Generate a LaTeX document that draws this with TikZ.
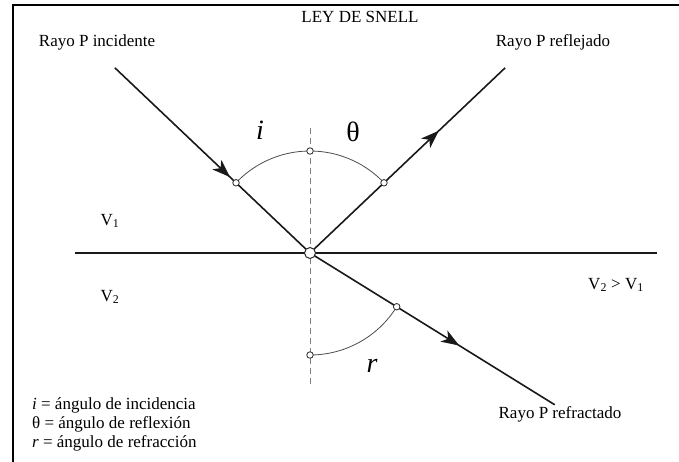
\documentclass[tikz,border=0pt]{standalone}
\usepackage{fontspec}
\setmainfont{Liberation Serif}
\usetikzlibrary{arrows.meta, calc, decorations.markings}

\begin{document}
\begin{tikzpicture}[x=1pt, y=1pt,
  ray/.style={line width=1.6pt, black!90},
  midarrow/.style={postaction={decorate}, decoration={markings,
    mark=at position #1 with {\arrow{Stealth[length=18pt, width=13pt, inset=5pt]}}}},
  arcline/.style={line width=0.8pt, black!70},
  hole/.style={circle, draw=black!85, fill=white, line width=0.8pt,
    inner sep=0pt, minimum size=6.5pt},
  lbl/.style={font=\fontsize{17}{19}\selectfont, inner sep=0pt},
  big/.style={font=\fontsize{28}{30}\selectfont, inner sep=0pt}]
  \useasboundingbox (0,-461) rectangle (679,0);
  % Frame
  \draw[line width=2pt] (13,-470) rectangle (690,-5);
  % Points
  \coordinate (O) at (310,-253);
  \coordinate (A) at ($(O)+(136.5:269)$);
  \coordinate (B) at ($(O)+(43.5:269)$);
  \coordinate (C) at ($(O)+(-31.8:288)$);
  \coordinate (pi) at ($(O)+(136.5:102)$);
  \coordinate (pt) at ($(O)+(90:102)$);
  \coordinate (pr) at ($(O)+(43.5:102)$);
  \coordinate (pf) at ($(O)+(-31.8:102)$);
  \coordinate (pb) at ($(O)+(-90:102)$);
  \coordinate (L) at (75,-253);
  \coordinate (R) at (657,-253);
  \coordinate (N1) at (310,-128);
  \coordinate (N2) at (310,-385);
  % Normal and interface
  \draw[gray, line width=0.9pt, dash pattern=on 6pt off 4pt] (N1) -- (N2);
  \draw[ray] (L) -- (R);
  % Angle arcs
  \draw[arcline] (pi) arc[start angle=136.5, end angle=43.5, radius=102pt];
  \draw[arcline] (pf) arc[start angle=-31.8, end angle=-90, radius=102pt];
  % Rays
  \draw[ray, midarrow=0.59] (A) -- (O);
  \draw[ray, midarrow=0.66] (O) -- (B);
  \draw[ray, midarrow=0.61] (O) -- (C);
  % Circles
  \foreach \p in {pi,pt,pr,pf,pb}
    \node[hole] (h\p) at (\p) {};
  \node[hole, minimum size=11pt, line width=1pt] (hO) at (O) {};
  % Labels
  \node[lbl] (title) at (360,-17) {LEY DE SNELL};
  \node[lbl] (tinc) at (97,-42) {Rayo P incidente};
  \node[lbl] (tref) at (553,-42) {Rayo P reflejado};
  \node[lbl] (tfra) at (560,-414) {Rayo P refractado};
  \node[big] (ai) at (260,-130) {\textit{i}};
  \node[big] (ath) at (353,-132) {θ};
  \node[big] (ar) at (372,-366) {\textit{r}};
  \node[lbl] (v1) at (110,-221) {V\textsubscript{1}};
  \node[lbl] (v2) at (110,-297) {V\textsubscript{2}};
  \node[lbl] (vv) at (616,-285) {V\textsubscript{2} > V\textsubscript{1}};
  % Key
  \node[lbl, anchor=west, align=left] (key) at (32,-424)
    {\textit{i} = ángulo de incidencia\\
     θ = ángulo de reflexión\\
     \textit{r} = ángulo de refracción};
\end{tikzpicture}
\end{document}
